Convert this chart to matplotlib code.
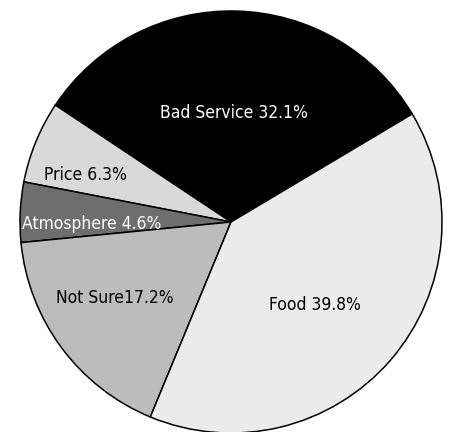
import matplotlib
matplotlib.use("Agg")
import matplotlib.pyplot as plt

categories = ["Bad Service", "Price", "Atmosphere", "Not Sure", "Food"]
values = [32.1, 6.3, 4.6, 17.2, 39.8]
labels = ["Bad Service 32.1%", "Price 6.3%", "Atmosphere 4.6%", "Not Sure17.2%", "Food 39.8%"]
colors = ["#000000", "#d9d9d9", "#6e6e6e", "#bcbcbc", "#ebebeb"]
text_colors = ["white", "black", "white", "black", "black"]
label_pos = [(0.014, 0.517), (-0.692, 0.223), (-0.659, -0.009), (-0.55, -0.36), (0.40, -0.393)]

fig = plt.figure(figsize=(4.49, 4.32), dpi=100)
ax = fig.add_axes([20/449, -1/432, 422/449, 422/432])
ax.pie(values, colors=colors, startangle=30.8, counterclock=True,
       wedgeprops=dict(edgecolor="black", linewidth=1.1))
ax.set_aspect("auto")
ax.set_xlim(-1, 1)
ax.set_ylim(-1, 1)
for lab, (x, y), tc in zip(labels, label_pos, text_colors):
    ax.text(x, y, lab, ha="center", va="center", color=tc, fontsize=12.5,
            family="DejaVu Sans", fontstretch="condensed")
ax.axis("off")
fig.savefig("out.png", dpi=100)
